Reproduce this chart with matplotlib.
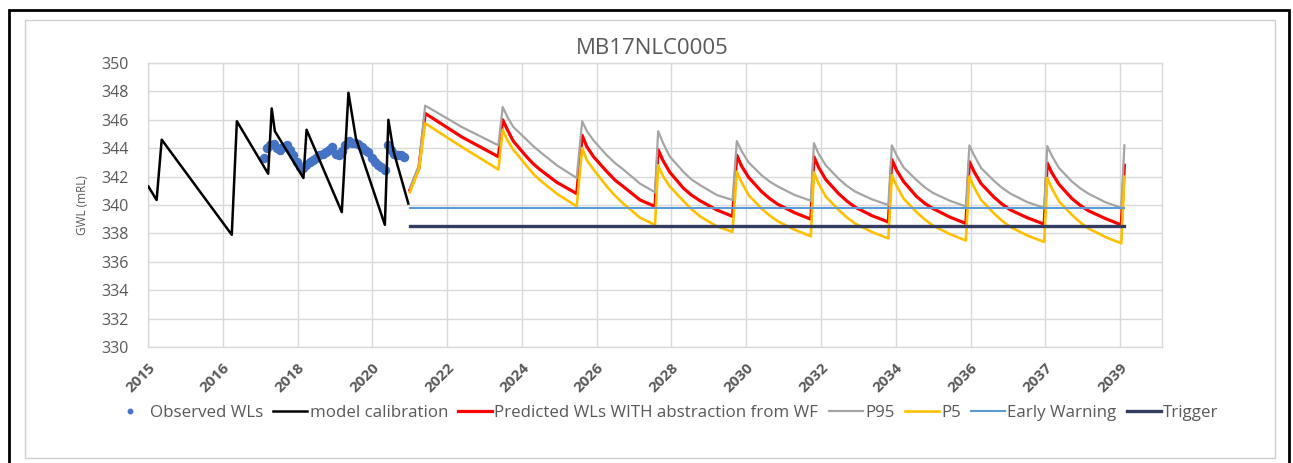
import matplotlib
matplotlib.use("Agg")
import matplotlib.pyplot as plt
from matplotlib.patches import Rectangle

plt.rcParams['font.family'] = ['Open Sans', 'DejaVu Sans']

TITLE = "MB17NLC0005"
Y_LABEL = "GWL (mRL)"
TEXT_COLOR = "#595959"

# x-axis ticks (decimal years) and their labels
tick_years = [2015.0, 2016.91, 2018.82, 2020.73, 2022.64, 2024.55, 2026.46,
              2028.37, 2030.28, 2032.19, 2034.10, 2036.01, 2037.92, 2039.83]
tick_labels = ["2015", "2016", "2018", "2020", "2022", "2024", "2026",
               "2028", "2030", "2032", "2034", "2036", "2037", "2039"]
y_ticks = [330, 332, 334, 336, 338, 340, 342, 344, 346, 348, 350]

# model calibration run
calib_years = [2015.01, 2015.22, 2015.35, 2017.14, 2017.27, 2018.07, 2018.16,
               2018.24, 2018.97, 2019.05, 2019.95, 2020.12, 2020.31, 2021.05,
               2021.14, 2021.27, 2021.65]
calib_gwl = [341.3, 340.35, 344.6, 337.9, 345.9, 342.2, 346.8,
             345.2, 341.9, 345.3, 339.5, 347.9, 344.7, 338.6,
             346.0, 343.8, 340.1]

# observed water levels, monthly from Dec 2017
obs_gwl = [343.3, 344.0, 344.2, 344.3, 344.0, 343.9, 344.1, 344.2, 343.9, 343.5,
           343.0, 342.7, 342.6, 342.8, 343.0, 343.2, 343.3, 343.5, 343.6, 343.7,
           343.9, 344.1, 343.6, 343.5, 343.8, 344.2, 344.5, 344.4, 344.4, 344.3,
           344.1, 343.9, 343.7, 343.3, 343.0, 342.8, 342.7, 342.5, 344.2, 343.9,
           343.6, 343.5, 343.5, 343.4]
obs_years = [2017.96 + m / 12 for m in range(len(obs_gwl))]

# predicted levels with wellfield abstraction, plus P95 / P5 bounds
pred_years = [2021.69, 2021.92,
              2022.08, 2023.01, 2023.95,
              2024.06, 2024.18, 2024.33, 2024.67, 2024.84, 2025.01, 2025.44, 2025.95,
              2026.09, 2026.21, 2026.38, 2026.72, 2026.93, 2027.14, 2027.57, 2027.95,
              2028.03, 2028.15, 2028.33, 2028.67, 2028.88, 2029.10, 2029.53, 2029.93,
              2030.04, 2030.16, 2030.34, 2030.67, 2030.88, 2031.09, 2031.52, 2031.93,
              2032.01, 2032.13, 2032.31, 2032.64, 2032.85, 2033.06, 2033.49, 2033.91,
              2034.00, 2034.12, 2034.30, 2034.63, 2034.84, 2035.05, 2035.48, 2035.89,
              2035.98, 2036.10, 2036.28, 2036.61, 2036.82, 2037.03, 2037.46, 2037.89,
              2037.97, 2038.09, 2038.27, 2038.60, 2038.81, 2039.02, 2039.45, 2039.86,
              2039.94]
pred_gwl = [341.05, 342.6,
            346.45, 344.8, 343.4,
            346.0, 345.3, 344.5, 343.4, 342.9, 342.5, 341.6, 340.8,
            344.9, 344.1, 343.4, 342.35, 341.75, 341.3, 340.35, 339.9,
            343.9, 343.15, 342.3, 341.2, 340.7, 340.3, 339.65, 339.2,
            343.5, 342.75, 341.95, 340.95, 340.45, 340.05, 339.45, 339.0,
            343.4, 342.65, 341.8, 340.8, 340.28, 339.85, 339.25, 338.8,
            343.2, 342.45, 341.65, 340.6, 340.12, 339.75, 339.15, 338.7,
            343.05, 342.35, 341.5, 340.55, 340.05, 339.65, 339.1, 338.65,
            342.95, 342.25, 341.45, 340.45, 339.98, 339.6, 339.05, 338.6,
            342.8]
p95_gwl = [341.2, 342.8,
           347.0, 345.5, 344.2,
           346.9, 346.2, 345.5, 344.6, 344.15, 343.75, 342.8, 341.9,
           345.9, 345.2, 344.55, 343.5, 342.95, 342.5, 341.5, 340.9,
           345.2, 344.4, 343.4, 342.35, 341.8, 341.4, 340.7, 340.35,
           344.5, 343.8, 343.0, 342.1, 341.65, 341.3, 340.7, 340.3,
           344.35, 343.6, 342.8, 341.85, 341.35, 340.95, 340.4, 340.0,
           344.2, 343.5, 342.65, 341.75, 341.25, 340.85, 340.3, 339.9,
           344.2, 343.5, 342.6, 341.7, 341.2, 340.8, 340.2, 339.8,
           344.15, 343.45, 342.6, 341.65, 341.18, 340.8, 340.2, 339.8,
           344.2]
p5_gwl = [340.9, 342.5,
          345.75, 344.1, 342.5,
          345.3, 344.55, 343.9, 342.75, 342.2, 341.75, 340.8, 339.9,
          344.0, 343.15, 342.5, 341.3, 340.65, 340.1, 339.1, 338.6,
          342.8, 342.05, 341.3, 340.3, 339.7, 339.2, 338.5, 338.1,
          342.35, 341.6, 340.7, 339.75, 339.25, 338.85, 338.25, 337.8,
          342.3, 341.5, 340.6, 339.65, 339.13, 338.7, 338.1, 337.65,
          342.1, 341.35, 340.45, 339.5, 338.98, 338.55, 337.95, 337.5,
          342.0, 341.25, 340.35, 339.4, 338.88, 338.45, 337.85, 337.4,
          341.9, 341.15, 340.25, 339.3, 338.78, 338.35, 337.75, 337.3,
          342.0]

threshold_years = [2021.69, 2039.94]
early_warning = 339.8
trigger = 338.5

fig = plt.figure(figsize=(12.93, 4.63), dpi=100)
ax = fig.add_axes([148 / 1293, 1 - 347 / 463, 1014 / 1293, 284 / 463])

ax.plot(obs_years, obs_gwl, linestyle="none", marker="o", markersize=5.8,
        color="#4472C4", label="Observed WLs", zorder=3)
ax.plot(calib_years, calib_gwl, color="black", lw=1.8,
        label="model calibration", zorder=4)
ax.plot(pred_years, pred_gwl, color="#FF0000", lw=2.3,
        label="Predicted WLs WITH abstraction from WF", zorder=5)
ax.plot(pred_years, p95_gwl, color="#A5A5A5", lw=1.6, label="P95", zorder=6)
ax.plot(pred_years, p5_gwl, color="#FFC000", lw=1.9, label="P5", zorder=7)
ax.plot(threshold_years, [early_warning] * 2, color="#5B9BD5", lw=1.5,
        label="Early Warning", zorder=8)
ax.plot(threshold_years, [trigger] * 2, color="#323C5E", lw=2.4,
        label="Trigger", zorder=8)

ax.set_xlim(2015.0, 2040.9)
ax.set_ylim(330, 350)
ax.set_yticks(y_ticks)
ax.set_xticks(tick_years)
ax.set_xticklabels(tick_labels, rotation=45, ha="right", va="top",
                   rotation_mode="anchor", fontsize=11, fontweight="bold",
                   color=TEXT_COLOR)
ax.tick_params(axis="y", labelsize=11.5, labelcolor=TEXT_COLOR, length=0, pad=14)
ax.tick_params(axis="x", length=0, pad=10)
ax.grid(True, color="#D9D9D9", lw=1.0)
ax.set_axisbelow(True)
for side, sp in ax.spines.items():
    sp.set_color("#D9D9D9")
    sp.set_linewidth(1.0)

ax.set_ylabel(Y_LABEL, fontsize=8.5, color=TEXT_COLOR)
ax.yaxis.set_label_coords(-0.058, 0.5)
fig.text(652 / 1293, 1 - 48 / 463, TITLE, ha="center", va="center",
         fontsize=16, color=TEXT_COLOR)

leg = fig.legend(loc="center", bbox_to_anchor=(666 / 1293, 1 - 413 / 463),
                 ncol=7, frameon=False, fontsize=12.2, handlelength=2.0,
                 handletextpad=0.15, columnspacing=0.6, markerscale=0.55,
                 labelcolor=TEXT_COLOR)

# chart frame
fig.patches.append(Rectangle((25 / 1293, 1 - 458 / 463), 1250 / 1293, 438 / 463,
                             transform=fig.transFigure, fill=False,
                             edgecolor="#D0D0D0", lw=1.0))
fig.patches.append(Rectangle((9 / 1293, -0.05), 1280 / 1293, 1.05 - 10 / 463,
                             transform=fig.transFigure, fill=False,
                             edgecolor="black", lw=2.0))

fig.savefig("out.png", dpi=100, facecolor="white")
